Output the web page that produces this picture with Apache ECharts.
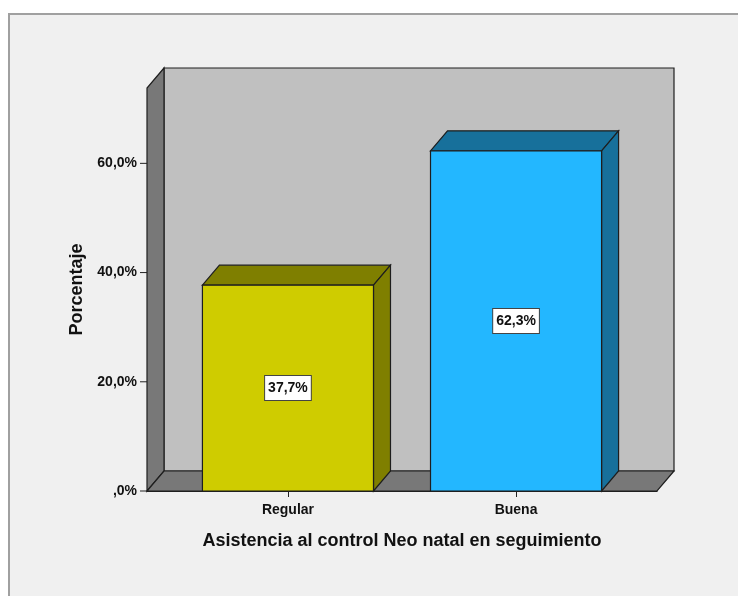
<!DOCTYPE html>
<html>
<head>
<meta charset="utf-8">
<script src="https://cdn.jsdelivr.net/npm/echarts@6/dist/echarts.min.js"></script>
<style>
html, body { margin: 0; padding: 0; background: #fff; }
#graph { width: 738px; height: 596px; }
</style>
</head>
<body>
<div id="graph"></div>
<script>
// data
var categories = ['Regular', 'Buena'];
var values = [37.7, 62.3];
var yTicks = [0, 20, 40, 60];
var yMax = 73.8;

var barColors = ['#cfcc00', '#23b7ff'];
var barDark = ['#7f7f00', '#17709b'];

// 3d look (pixels)
var DEPTH_X = 17, DEPTH_Y = 20;
var X_MIN = -0.618, X_MAX = 1.618, BAR_W = 0.75;
var FONT = '"Liberation Sans", Arial, sans-serif';

function pct(v) {
    var s = v.toFixed(1).replace('.', ',');
    if (v === 0) s = ',0';
    return s + '%';
}
function back(p) { return [p[0] + DEPTH_X, p[1] - DEPTH_Y]; }

function renderWalls(params, api) {
    var f0 = api.coord([X_MIN, 0]);
    var f1 = api.coord([X_MAX, 0]);
    var f2 = api.coord([X_MIN, yMax]);
    var b0 = back(f0), b1 = back(f1), b2 = back(f2);
    var b3 = [b1[0], b2[1]];
    var line = { stroke: '#1e1e1e', lineWidth: 1.2 };
    var children = [
        { type: 'polygon', shape: { points: [b2, b3, b1, b0] },
          style: Object.assign({ fill: '#c0c0c0' }, line) },
        { type: 'polygon', shape: { points: [f0, b0, b2, f2] },
          style: Object.assign({ fill: '#787878' }, line) },
        { type: 'polygon', shape: { points: [f0, f1, b1, b0] },
          style: Object.assign({ fill: '#787878' }, line) }
    ];
    // y axis ticks on the front edge of the left wall
    yTicks.forEach(function (t) {
        var p = api.coord([X_MIN, t]);
        children.push({ type: 'line',
            shape: { x1: p[0] - 7, y1: p[1], x2: p[0], y2: p[1] },
            style: { stroke: '#222', lineWidth: 1 } });
    });
    return { type: 'group', children: children };
}

function renderBar(params, api) {
    var i = params.dataIndex;
    var x = api.value(0), v = api.value(1);
    var tl = api.coord([x - BAR_W / 2, v]);
    var br = api.coord([x + BAR_W / 2, 0]);
    var tr = [br[0], tl[1]];
    var bl = [tl[0], br[1]];
    var line = { stroke: '#1e1e1e', lineWidth: 1.2 };
    return {
        type: 'group',
        children: [
            { type: 'polygon', shape: { points: [tl, back(tl), back(tr), tr] },
              style: Object.assign({ fill: barDark[i] }, line) },
            { type: 'polygon', shape: { points: [tr, back(tr), back(br), br] },
              style: Object.assign({ fill: barDark[i] }, line) },
            { type: 'polygon', shape: { points: [tl, tr, br, bl] },
              style: Object.assign({ fill: barColors[i] }, line) },
            { type: 'text', x: (tl[0] + br[0]) / 2, y: (tl[1] + br[1]) / 2,
              style: { text: pct(v), align: 'center', verticalAlign: 'middle',
                       fill: '#111', font: 'bold 14px ' + FONT,
                       backgroundColor: '#fff', borderColor: '#444', borderWidth: 1,
                       padding: [5, 3] } }
        ]
    };
}

var dom = document.getElementById('graph');
var myChart = echarts.init(dom, null, { renderer: 'canvas' });

var option = {
    backgroundColor: '#fff',
    animation: false,
    graphic: [{
        type: 'rect', left: 8, top: 13, z: -10,
        shape: { width: 760, height: 620 },
        style: { fill: '#f0f0f0', stroke: '#a0a0a0', lineWidth: 2 }
    }],
    grid: { left: 147, right: 81, top: 88, bottom: 105 },
    xAxis: {
        type: 'value', min: X_MIN, max: X_MAX,
        axisLine: { show: true, lineStyle: { color: '#1e1e1e', width: 1.2 } },
        splitLine: { show: false },
        axisTick: { show: true, customValues: [0, 1], length: 6,
                    lineStyle: { color: '#222' } },
        axisLabel: { customValues: [0, 1], margin: 12,
                     formatter: function (v) { return categories[Math.round(v)]; },
                     color: '#111', fontWeight: 'bold', fontSize: 14, fontFamily: FONT },
        name: 'Asistencia al control Neo natal en seguimiento',
        nameLocation: 'middle', nameGap: 41,
        nameTextStyle: { color: '#111', fontWeight: 'bold', fontSize: 18, fontFamily: FONT }
    },
    yAxis: {
        type: 'value', min: 0, max: yMax,
        axisLine: { show: true, lineStyle: { color: '#1e1e1e', width: 1.2 } },
        splitLine: { show: false },
        axisTick: { show: false },
        axisLabel: { customValues: yTicks, margin: 10, formatter: pct,
                     color: '#111', fontWeight: 'bold', fontSize: 14, fontFamily: FONT },
        name: 'Porcentaje',
        nameLocation: 'middle', nameGap: 60, nameRotate: 90,
        nameTextStyle: { color: '#111', fontWeight: 'bold', fontSize: 18, fontFamily: FONT }
    },
    series: [{
        type: 'custom',
        renderItem: renderWalls,
        data: [[0, 0]],
        silent: true,
        clip: false,
        z: 1
    }, {
        type: 'custom',
        renderItem: renderBar,
        data: values.map(function (v, i) { return [i, v]; }),
        z: 3
    }]
};

if (option && typeof option === 'object') {
    myChart.setOption(option, true);
}
</script>
</body>
</html>
